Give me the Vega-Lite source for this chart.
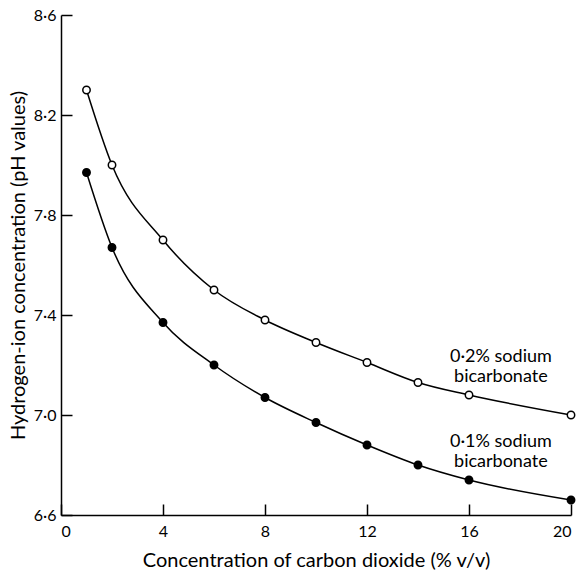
{
  "$schema": "https://vega.github.io/schema/vega-lite/v6.json",
  "width": 510,
  "height": 500,
  "autosize": {"type": "none"},
  "padding": {"left": 61, "top": 15, "right": 12, "bottom": 55},
  "background": "white",
  "config": {
    "view": {"stroke": null},
    "font": "Lato",
    "axis": {
      "domainColor": "black",
      "domainWidth": 1.5,
      "tickColor": "black",
      "tickWidth": 1.5,
      "tickSize": -11,
      "grid": false,
      "labelColor": "black",
      "labelFont": "Lato",
      "labelFontSize": 16,
      "titleFont": "Lato",
      "titleFontSize": 20,
      "titleFontWeight": "normal",
      "titleColor": "black"
    }
  },
  "datasets": {
    "pts": [
      {"co2": 1, "ph": 8.30, "series": "0.2%"},
      {"co2": 2, "ph": 8.00, "series": "0.2%"},
      {"co2": 4, "ph": 7.70, "series": "0.2%"},
      {"co2": 6, "ph": 7.50, "series": "0.2%"},
      {"co2": 8, "ph": 7.38, "series": "0.2%"},
      {"co2": 10, "ph": 7.29, "series": "0.2%"},
      {"co2": 12, "ph": 7.21, "series": "0.2%"},
      {"co2": 14, "ph": 7.13, "series": "0.2%"},
      {"co2": 16, "ph": 7.08, "series": "0.2%"},
      {"co2": 20, "ph": 7.00, "series": "0.2%"},
      {"co2": 1, "ph": 7.97, "series": "0.1%"},
      {"co2": 2, "ph": 7.67, "series": "0.1%"},
      {"co2": 4, "ph": 7.37, "series": "0.1%"},
      {"co2": 6, "ph": 7.20, "series": "0.1%"},
      {"co2": 8, "ph": 7.07, "series": "0.1%"},
      {"co2": 10, "ph": 6.97, "series": "0.1%"},
      {"co2": 12, "ph": 6.88, "series": "0.1%"},
      {"co2": 14, "ph": 6.80, "series": "0.1%"},
      {"co2": 16, "ph": 6.74, "series": "0.1%"},
      {"co2": 20, "ph": 6.66, "series": "0.1%"}
    ],
    "labels": [
      {"co2": 17.25, "ph": 7.232, "text": "0·2% sodium"},
      {"co2": 17.25, "ph": 7.152, "text": "bicarbonate"},
      {"co2": 17.25, "ph": 6.892, "text": "0·1% sodium"},
      {"co2": 17.25, "ph": 6.812, "text": "bicarbonate"}
    ]
  },
  "layer": [
    {
      "data": {"name": "pts"},
      "mark": {"type": "line", "interpolate": "monotone", "color": "black", "strokeWidth": 1.5},
      "encoding": {
        "x": {"field": "co2", "type": "quantitative", "scale": {"domain": [0, 20]},
          "axis": {"values": [0, 4, 8, 12, 16, 20], "title": "Concentration of carbon dioxide (% v/v)", "labelPadding": 19, "titlePadding": 11}},
        "y": {"field": "ph", "type": "quantitative", "scale": {"domain": [6.6, 8.6]},
          "axis": {"values": [6.6, 7.0, 7.4, 7.8, 8.2, 8.6], "labelExpr": "replace(format(datum.value, '.1f'), '.', '·')", "title": "Hydrogen-ion concentration (pH values)", "labelPadding": 16, "titlePadding": 5}},
        "detail": {"field": "series"}
      }
    },
    {
      "data": {"name": "pts"},
      "mark": {"type": "point", "filled": true, "size": 55, "strokeWidth": 1.5, "stroke": "black", "opacity": 1},
      "encoding": {
        "x": {"field": "co2", "type": "quantitative"},
        "y": {"field": "ph", "type": "quantitative"},
        "fill": {"field": "series", "type": "nominal", "scale": {"domain": ["0.2%", "0.1%"], "range": ["white", "black"]}, "legend": null}
      }
    },
    {
      "data": {"name": "labels"},
      "mark": {"type": "text", "font": "Lato", "fontSize": 18, "color": "black", "align": "center", "baseline": "middle"},
      "encoding": {
        "x": {"field": "co2", "type": "quantitative"},
        "y": {"field": "ph", "type": "quantitative"},
        "text": {"field": "text"}
      }
    }
  ]
}
